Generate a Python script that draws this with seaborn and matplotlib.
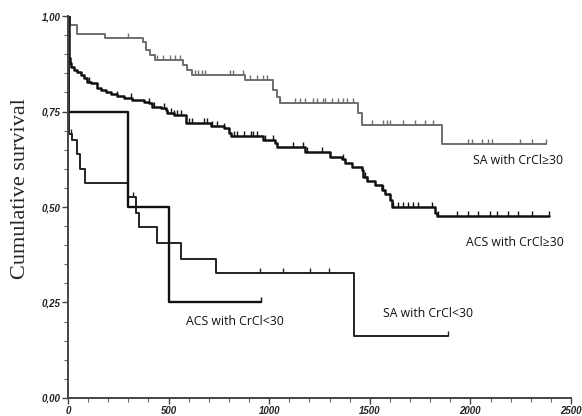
import numpy as np
import pandas as pd
import matplotlib
matplotlib.use("Agg")
import matplotlib.pyplot as plt
from matplotlib.path import Path
from matplotlib.ticker import MultipleLocator, FixedLocator
import seaborn as sns

# ---------------- data ----------------
sa_hi_t = [0, 10, 45, 184, 373, 388, 408, 432, 572, 590, 616, 880, 1019, 1039, 1054, 1441, 1461, 1859, 2376]
sa_hi_s = [1.0, 0.976, 0.954, 0.943, 0.933, 0.911, 0.898, 0.885, 0.872, 0.859, 0.846, 0.832, 0.806, 0.789,
           0.773, 0.746, 0.715, 0.665, 0.665]
sa_hi_cens = [297, 441, 474, 507, 532, 557, 631, 648, 664, 681, 805, 822, 871, 905, 938, 971, 988, 1054,
              1128, 1153, 1178, 1219, 1236, 1269, 1277, 1311, 1344, 1369, 1385, 1418, 1509, 1567, 1584,
              1600, 1666, 1725, 1774, 1816, 1990, 2006, 2056, 2089, 2106, 2246, 2305, 2376]

acs_hi_t = [0, 3, 6, 8, 13, 30, 46, 63, 80, 96, 113, 146, 163, 187, 212, 245, 278, 320, 378, 403, 419, 461,
            486, 494, 527, 585, 709, 775, 800, 809, 971, 1029, 1037, 1178, 1302, 1360, 1377, 1410, 1460,
            1468, 1485, 1526, 1559, 1575, 1600, 1609, 1824, 1832, 2389]
acs_hi_s = [1.0, 0.93, 0.89, 0.876, 0.867, 0.859, 0.854, 0.846, 0.837, 0.828, 0.824, 0.811, 0.806, 0.802,
            0.796, 0.791, 0.785, 0.780, 0.776, 0.771, 0.763, 0.758, 0.754, 0.745, 0.741, 0.719, 0.712,
            0.706, 0.693, 0.685, 0.675, 0.668, 0.658, 0.645, 0.630, 0.625, 0.614, 0.606, 0.597, 0.579,
            0.567, 0.558, 0.545, 0.534, 0.518, 0.499, 0.483, 0.476, 0.476]
acs_hi_cens = [104, 245, 311, 403, 427, 477, 510, 527, 543, 560, 601, 618, 676, 692, 717, 742, 775, 825,
               841, 875, 908, 920, 939, 979, 1020, 1120, 1170, 1186, 1261, 1368, 1476, 1485, 1567, 1617,
               1642, 1666, 1691, 1716, 1741, 1807, 1840, 1932, 1990, 2039, 2097, 2131, 2188, 2238, 2305,
               2389]

sa_lo_t = [0, 5, 20, 45, 60, 85, 298, 340, 353, 442, 562, 736, 1421, 1889]
sa_lo_s = [1.0, 0.69, 0.675, 0.64, 0.60, 0.563, 0.527, 0.485, 0.448, 0.405, 0.364, 0.327, 0.162, 0.162]
sa_lo_cens = [15, 325, 954, 1070, 1203, 1299, 1889]

acs_lo_t = [0, 1, 300, 500, 960]
acs_lo_s = [1.0, 0.75, 0.50, 0.25, 0.25]
acs_lo_cens = [960]

y_ticks = [0.0, 0.25, 0.50, 0.75, 1.0]
y_tick_labels = ["0,00", "0,25", "0,50", "0,75", "1,00"]
x_ticks = [0, 500, 1000, 1500, 2000, 2500]
x_tick_labels = ["0", "500", "1000", "1500", "2000", "2500"]

labels = {
    "sa_hi": "SA with CrCl\u226530",
    "acs_hi": "ACS with CrCl\u226530",
    "sa_lo": "SA with CrCl<30",
    "acs_lo": "ACS with CrCl<30",
}

# ---------------- plot ----------------
sns.set_theme(style="ticks")
plt.rcParams["font.family"] = ["DejaVu Sans"]

fig = plt.figure(figsize=(5.82, 4.16), dpi=100)
ax = fig.add_axes([0.1168, 0.0433, 0.8643, 0.9182])

tick_path = Path([(0, 0), (0, 1)], [Path.MOVETO, Path.LINETO])

def step_value(ts, ss, t):
    idx = np.searchsorted(ts, t, side="right") - 1
    return np.asarray(ss)[idx]

curves = [
    ("sa_hi", sa_hi_t, sa_hi_s, sa_hi_cens, "#6e6e6e", 1.4),
    ("acs_hi", acs_hi_t, acs_hi_s, acs_hi_cens, "#111111", 1.8),
    ("sa_lo", sa_lo_t, sa_lo_s, sa_lo_cens, "#222222", 1.4),
    ("acs_lo", acs_lo_t, acs_lo_s, acs_lo_cens, "#111111", 1.7),
]

for key, ts, ss, cens, col, lw in curves:
    df = pd.DataFrame({"t": ts, "s": ss})
    sns.lineplot(data=df, x="t", y="s", ax=ax, drawstyle="steps-post", estimator=None,
                 color=col, linewidth=lw, sort=False)
    cs = step_value(ts, ss, np.asarray(cens))
    ax.plot(cens, cs, linestyle="none", marker=tick_path, markersize=6.5,
            markeredgewidth=1.0, color=col)

ax.set_xlim(0, 2500)
ax.set_ylim(0, 1.0)
ax.set_xlabel("")
ax.set_ylabel("Cumulative survival", family="Liberation Serif", fontsize=16)
ax.yaxis.set_label_coords(-0.076, 0.547)

ax.xaxis.set_major_locator(FixedLocator(x_ticks))
ax.xaxis.set_minor_locator(MultipleLocator(100))
ax.yaxis.set_major_locator(FixedLocator(y_ticks))
ax.yaxis.set_minor_locator(MultipleLocator(0.05))
ax.set_xticklabels(x_tick_labels)
ax.set_yticklabels(y_tick_labels)
for lab in ax.get_xticklabels() + ax.get_yticklabels():
    lab.set_fontstyle("italic")
    lab.set_fontweight("bold")
    lab.set_fontsize(7)
    lab.set_family("Liberation Sans")
    lab.set_color("#222222")

ax.tick_params(axis="both", which="major", length=4, width=1.0, color="#444444", pad=1.5)
ax.tick_params(axis="both", which="minor", length=3, width=0.8, color="#666666")
for side in ["top", "right"]:
    ax.spines[side].set_visible(False)
for side in ["left", "bottom"]:
    ax.spines[side].set_linewidth(1.4)
    ax.spines[side].set_color("#444444")

txt_kw = dict(family="Open Sans", fontsize=8.8, color="#111111", va="center")
ax.text(2013, 0.623, labels["sa_hi"], **txt_kw)
ax.text(1978, 0.408, labels["acs_hi"], **txt_kw)
ax.text(1566, 0.220, labels["sa_lo"], **txt_kw)
ax.text(586, 0.199, labels["acs_lo"], **txt_kw)

fig.savefig("out.png", dpi=100)
